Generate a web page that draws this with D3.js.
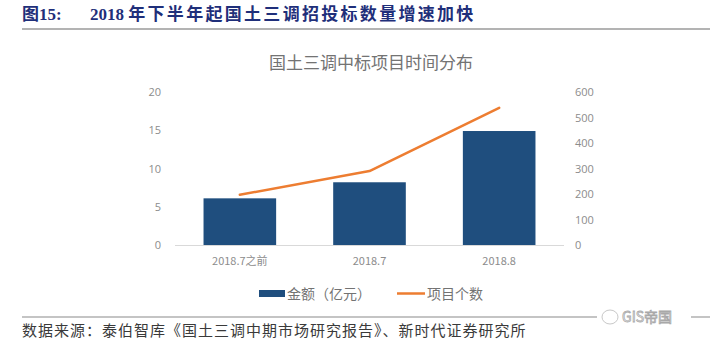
<!DOCTYPE html>
<html>
<head>
<meta charset="utf-8">
<script src="https://cdn.jsdelivr.net/npm/d3@7"></script>
<style>
  html, body { margin: 0; padding: 0; background: #fff; }
  svg { display: block; }
</style>
</head>
<body>
<svg id="chart" width="720" height="345"></svg>
<script>
// Chart data
const categories = ["2018.7之前", "2018.7", "2018.8"];
const amountValues = [6.1, 8.2, 14.9];      // 金额（亿元）
const projectCounts = [197, 290, 538];      // 项目个数
const leftTicks = [0, 5, 10, 15, 20];
const rightTicks = [0, 100, 200, 300, 400, 500, 600];

const svg = d3.select("#chart");
const cjk = "'Noto Sans CJK SC', 'Noto Sans', sans-serif";

// Figure header
svg.append("text")
  .attr("x", 22).attr("y", 20)
  .attr("font-family", "'Liberation Serif', 'Noto Sans CJK SC', serif")
  .attr("font-weight", "bold")
  .attr("font-size", 17)
  .attr("fill", "#1f2f7a")
  .text("图15:");
const head = svg.append("text")
  .attr("x", 90).attr("y", 20)
  .attr("font-family", "'Liberation Serif', 'Noto Sans CJK SC', serif")
  .attr("font-weight", "bold")
  .attr("font-size", 17)
  .attr("fill", "#1f2f7a");
head.append("tspan").text("2018 ");
head.append("tspan").attr("letter-spacing", 2.3).text("年下半年起国土三调招投标数量增速加快");
svg.append("line")
  .attr("x1", 22).attr("x2", 710).attr("y1", 29).attr("y2", 29)
  .attr("stroke", "#9a9a9a").attr("stroke-width", 1.5);

// Chart title
svg.append("text")
  .attr("x", 371).attr("y", 69)
  .attr("text-anchor", "middle")
  .attr("font-family", cjk)
  .attr("font-size", 17)
  .attr("fill", "#737373")
  .text("国土三调中标项目时间分布");

// Scales
const plotLeft = 175, plotRight = 564, plotTop = 92, plotBottom = 245;
const x = d3.scaleBand().domain(categories).range([plotLeft, plotRight]).paddingInner(0.44).paddingOuter(0.22);
const yLeft = d3.scaleLinear().domain([0, 20]).range([plotBottom, plotTop]);
const yRight = d3.scaleLinear().domain([0, 600]).range([plotBottom, plotTop]);

// Left axis
const leftAxis = svg.append("g")
  .attr("transform", `translate(${plotLeft - 14},0)`)
  .call(d3.axisLeft(yLeft).tickValues(leftTicks).tickSize(0).tickPadding(0));
leftAxis.select(".domain").remove();
leftAxis.selectAll("text")
  .attr("font-family", "'Open Sans', sans-serif").attr("font-size", 11).attr("fill", "#8c8c8c");

// Right axis
const rightAxis = svg.append("g")
  .attr("transform", `translate(${plotRight + 11},0)`)
  .call(d3.axisRight(yRight).tickValues(rightTicks).tickSize(0).tickPadding(0));
rightAxis.select(".domain").remove();
rightAxis.selectAll("text")
  .attr("font-family", "'Open Sans', sans-serif").attr("font-size", 11).attr("fill", "#8c8c8c");

// Bars
svg.append("g").selectAll("rect")
  .data(amountValues)
  .join("rect")
  .attr("x", (d, i) => x(categories[i]))
  .attr("y", d => yLeft(d))
  .attr("width", x.bandwidth())
  .attr("height", d => yLeft(0) - yLeft(d))
  .attr("fill", "#1f4e7e");

// Baseline
svg.append("line")
  .attr("x1", plotLeft).attr("x2", plotRight)
  .attr("y1", plotBottom + 0.5).attr("y2", plotBottom + 0.5)
  .attr("stroke", "#d9d9d9").attr("stroke-width", 1);

// Category labels
const bottomAxis = svg.append("g")
  .attr("transform", `translate(0,${plotBottom})`)
  .call(d3.axisBottom(x).tickSize(0).tickPadding(12));
bottomAxis.select(".domain").remove();
bottomAxis.selectAll("text")
  .attr("font-family", cjk).attr("font-size", 11).attr("fill", "#8c8c8c");

// Project count line
const line = d3.line()
  .x((d, i) => x(categories[i]) + x.bandwidth() / 2)
  .y(d => yRight(d));
svg.append("path")
  .datum(projectCounts)
  .attr("d", line)
  .attr("fill", "none")
  .attr("stroke", "#ed7d31")
  .attr("stroke-width", 2.5)
  .attr("stroke-linejoin", "round")
  .attr("stroke-linecap", "round");

// Legend
const legend = svg.append("g").attr("font-family", cjk).attr("font-size", 14).attr("fill", "#737373");
legend.append("rect").attr("x", 259).attr("y", 290).attr("width", 26).attr("height", 7).attr("fill", "#1f4e7e");
legend.append("text").attr("x", 287).attr("y", 299).text("金额（亿元）");
legend.append("line").attr("x1", 397).attr("x2", 425).attr("y1", 293.5).attr("y2", 293.5)
  .attr("stroke", "#ed7d31").attr("stroke-width", 2.5);
legend.append("text").attr("x", 427).attr("y", 299).text("项目个数");

// Footer rule
svg.append("line")
  .attr("x1", 22).attr("x2", 710).attr("y1", 317).attr("y2", 317)
  .attr("stroke", "#8a8a8a").attr("stroke-width", 1.2);

// Watermark
const wm = svg.append("g");
wm.append("rect").attr("x", 597).attr("y", 308).attr("width", 94).attr("height", 18).attr("fill", "#fff");
wm.append("ellipse").attr("cx", 610).attr("cy", 317).attr("rx", 8).attr("ry", 7)
  .attr("fill", "none").attr("stroke", "#c8c8c8").attr("stroke-width", 1);
wm.append("text").attr("x", 622).attr("y", 322)
  .attr("font-family", cjk).attr("font-size", 14).attr("fill", "#fff")
  .attr("stroke", "#a8a8a8").attr("stroke-width", 0.8)
  .text("GIS帝国");

// Source note
svg.append("text")
  .attr("x", 22).attr("y", 336)
  .attr("font-family", cjk)
  .attr("font-size", 15)
  .attr("letter-spacing", 1)
  .attr("fill", "#3a3a3a")
  .text("数据来源：泰伯智库《国土三调中期市场研究报告》、新时代证券研究所");
</script>
</body>
</html>
